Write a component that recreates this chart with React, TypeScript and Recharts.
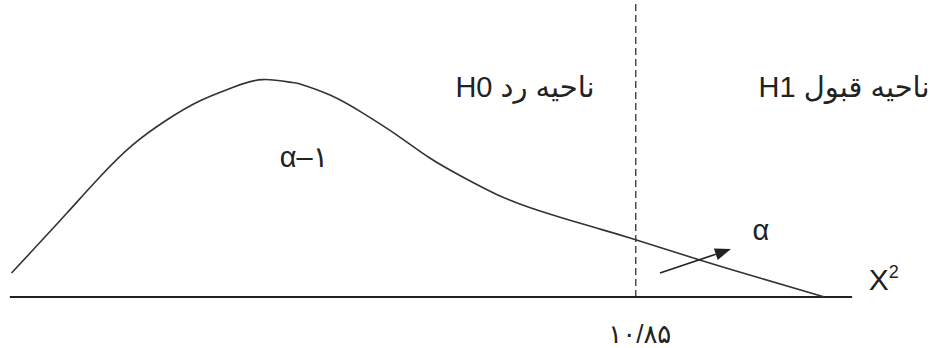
import { LineChart, Line, XAxis, YAxis, ReferenceLine, ReferenceDot } from 'recharts';

// chi-square density sketch (x in chi-square units, y in density)
const curveX = [0.03, 0.4, 0.99, 1.56, 2.13, 2.72, 3.29, 3.86, 4.38, 4.9, 5.03, 5.55, 6.12, 6.71, 7.28, 7.85, 8.44, 9.01, 9.58, 10.17, 10.75, 11.96, 13.0, 14.12];
const curveY = [0.0121, 0.0237, 0.0424, 0.0606, 0.0768, 0.0894, 0.099, 0.1058, 0.1098, 0.1083, 0.1076, 0.102, 0.0929, 0.0818, 0.0702, 0.0606, 0.0518, 0.0452, 0.0399, 0.0348, 0.0298, 0.0187, 0.0096, 0];

const critical = 10.85;
const axisEnd = 14.6;
const arrowFrom = { x: 11.27, y: 0.0121 };
const arrowTo = { x: 12.5, y: 0.0242 };

const notes = [
  { text: 'ناحیه رد H0', x: 8.93, y: 0.101, rtl: true, size: 29 },
  { text: 'ناحیه قبول H1', x: 14.46, y: 0.101, rtl: true, size: 29 },
  { text: 'α–۱', x: 5.1, y: 0.0657, rtl: false, size: 29 },
  { text: '۱۰/۸۵', x: 10.92, y: -0.0232, rtl: false, size: 26 },
  { text: 'α', x: 13.02, y: 0.0288, rtl: false, size: 29 },
];

const data = curveX.map((v, i) => ({ v, d: curveY[i] }));

const FONT = '"Liberation Sans", Arial, "DejaVu Sans", sans-serif';
const INK = '#222';

const noteShape = (text: string, rtl: boolean, size: number) => (p: any) => (
  <text x={p.cx} y={p.cy} textAnchor="middle" direction={rtl ? 'rtl' : 'ltr'}
    fontFamily={FONT} fontSize={size} fill={INK}>{text}</text>
);

const chiLabel = (p: any) => (
  <text x={p.cx} y={p.cy} textAnchor="start" fontFamily={FONT} fontSize={30} fill={INK}>
    X<tspan dy={-12} fontSize={18}>2</tspan>
  </text>
);

const ArrowShape = (p: any) => {
  const { x1, y1, x2, y2 } = p;
  const a = Math.atan2(y2 - y1, x2 - x1);
  const len = 16, half = 6;
  const bx = x2 - len * Math.cos(a), by = y2 - len * Math.sin(a);
  const pts = [
    [x2, y2],
    [bx + half * Math.sin(a), by - half * Math.cos(a)],
    [bx - half * Math.sin(a), by + half * Math.cos(a)],
  ].map(q => q.join(',')).join(' ');
  return (
    <g>
      <line x1={x1} y1={y1} x2={bx} y2={by} stroke={INK} strokeWidth={1.6} />
      <polygon points={pts} fill={INK} />
    </g>
  );
};

export default function App() {
  return (
    <div style={{ position: 'absolute', left: 0, top: 0, background: '#fff' }}>
      <LineChart width={930} height={348} data={data} margin={{ top: 0, right: 0, bottom: 51, left: 0 }}>
        <XAxis type="number" dataKey="v" domain={[-0.17, 15.95]} hide />
        <YAxis type="number" domain={[0, 0.15]} hide allowDataOverflow />
        <ReferenceLine segment={[{ x: critical, y: 0 }, { x: critical, y: 0.15 }]}
          stroke="#333" strokeWidth={1.3} strokeDasharray="7 4" />
        <ReferenceLine segment={[{ x: 0, y: 0 }, { x: axisEnd, y: 0 }]} stroke={INK} strokeWidth={2.2} />
        <Line type="natural" dataKey="d" stroke="#333" strokeWidth={1.6} dot={false} activeDot={false}
          isAnimationActive={false} />
        <ReferenceLine segment={[arrowFrom, arrowTo]} shape={ArrowShape} />
        {notes.map(n => (
          <ReferenceDot key={n.text} x={n.x} y={n.y} r={0} ifOverflow="visible" shape={noteShape(n.text, n.rtl, n.size)} />
        ))}
        <ReferenceDot x={14.89} y={0.0035} r={0} ifOverflow="visible" shape={chiLabel} />
      </LineChart>
    </div>
  );
}
